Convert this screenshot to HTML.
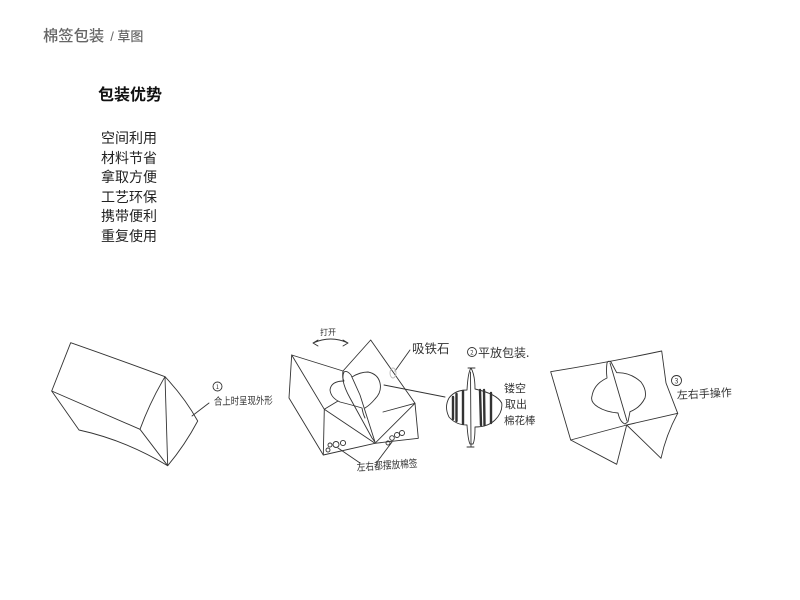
<!DOCTYPE html>
<html lang="zh">
<head>
<meta charset="utf-8">
<style>
html,body{margin:0;padding:0;background:#fff}
body{width:800px;height:600px;overflow:hidden;position:relative;font-family:"Liberation Sans","Noto Sans CJK SC",sans-serif}
.t{position:absolute;white-space:nowrap}
svg{position:absolute;left:0;top:0}
svg path,svg line,svg circle,svg ellipse{fill:none;stroke:#333;stroke-width:.9;stroke-linecap:round;stroke-linejoin:round}
svg text{font-family:"Noto Sans CJK SC",sans-serif;fill:#333;font-weight:400}
</style>
</head>
<body>
<div class="t" style="left:43px;top:26px;font-size:15.3px;line-height:22px;color:#666;font-weight:500">棉签包装<span style="font-size:13px;margin-left:6px">/ 草图</span></div>
<div class="t" style="left:98px;top:84px;font-size:16px;line-height:24px;font-weight:700;color:#111">包装优势</div>
<div class="t" style="left:101px;top:129px;font-size:14px;line-height:19.5px;color:#222">空间利用<br>材料节省<br>拿取方便<br>工艺环保<br>携带便利<br>重复使用</div>
<svg width="800" height="600" viewBox="0 0 800 600">
<!-- sketch 1 -->
<path d="M70.7 342.7Q120 360 165 376.7Q185 398 197.7 421Q185 445 167.7 465.7L140 429.3L51.7 391L70.7 342.7"/>
<path d="M165 376.7Q150 402 140 429.3M165 376.7L167.7 465.7M51.7 391L79 430Q125 440 167.7 465.7"/>
<path d="M192 416L209 403"/>
<circle cx="217.5" cy="386.5" r="4.5"/>
<text x="215.7" y="389" font-size="6">1</text>
<text font-size="10.5" transform="translate(214 405) rotate(-1) scale(.8 1)">合上时呈现外形</text>
<!-- sketch 2 -->
<path d="M291.7 355L343 371L370.7 340L415 403.3L418.3 438.3L375 443.3L323.3 455L289 398L291.7 355"/>
<path d="M291.7 355L324.3 409.3L323.3 455M324.3 409.3L338 401M324.3 409.3L375 443.3M415 403.3L375 443.3M415 403.3L383 412"/>
<path d="M343 371Q342 378 344 381Q331 381 330 390Q331 398 340 402Q352 405 362 408Q363 414 365 418"/>
<path d="M352 377Q360 372 368 372Q378 374 380 383Q382 392 375 399Q370 405 365 408"/>
<path d="M344 372Q340 380 350 398L372 438L375 442L360 395L351 375Q347 370 344 372"/>
<path d="M313 343Q331 335 348 343M313 343L318 340M313 343L318 346M348 343L343 340M348 343L343 346"/>
<text x="320" y="335" font-size="8">打开</text>
<path d="M395 371L410 350"/>
<ellipse cx="393" cy="373" rx="3" ry="5" style="stroke:#bbb"/>
<text x="412" y="353" font-size="12.5">吸铁石</text>
<circle cx="472" cy="352" r="4.5"/>
<text x="470.3" y="354.5" font-size="6">2</text>
<text x="478" y="357" font-size="12">平放包装.</text>
<path d="M384 385L445 397"/>
<path d="M468 368L475 368M471 368Q468 372 467 390Q455 390 449 398Q444 407 449 417Q456 425 467 425Q468 440 470 444L473 444Q475 440 475 427Q488 427 495 420Q503 412 501.7 403Q497 394 475 389Q475 375 471 368M467 447L474 447M471 444L471 447"/>
<path d="M470.5 372L471 443"/>
<path d="M453 397L453 419M456.500 394L456.500 421M463 391L463 424M480 390L481 425M484 390L484.500 425M491 393L491 423" style="stroke-width:2.4;stroke:#333"/>
<text x="504" y="392" font-size="11">镂空</text>
<text x="505" y="408" font-size="11">取出</text>
<text x="504" y="424" font-size="10.5">棉花棒</text>
<circle cx="328" cy="450" r="2"/><circle cx="330" cy="445" r="2"/><circle cx="336" cy="444.5" r="3"/><circle cx="343" cy="443" r="2.6"/>
<circle cx="388" cy="443" r="2"/><circle cx="392" cy="438" r="2.3"/><circle cx="397" cy="435" r="2.5"/><circle cx="402" cy="433" r="2.5"/>
<path d="M338 448L360 463M392 442L377 462"/>
<text font-size="10.500" transform="translate(357 471) rotate(-4) scale(.83 1)">左右都摆放棉签</text>
<!-- sketch 3 -->
<path d="M550.7 371.7Q610 362 661.7 351L666 383L677.7 413.3L626.7 425L570.7 440L550.7 371.7"/>
<path d="M570.7 440L616.7 464.3L626.7 425L661 458.3Q666 435 677.7 413.3"/>
<path d="M607 363Q608 360 611 362L616.7 372.7Q630 372 641 382Q647 390 645 398Q640 408 630 411.7L628 421.7L625 424Q620 422 618 413Q606 412 598 407Q590 402 592 396Q594 384 607 378Q606 370 607 363"/>
<path d="M610 363L627 421"/>
<circle cx="676.5" cy="380.5" r="5"/>
<text x="674.500" y="383.500" font-size="7">3</text>
<text x="677" y="399" font-size="11" transform="rotate(-3 677 399)">左右手操作</text>
</svg>
</body>
</html>
